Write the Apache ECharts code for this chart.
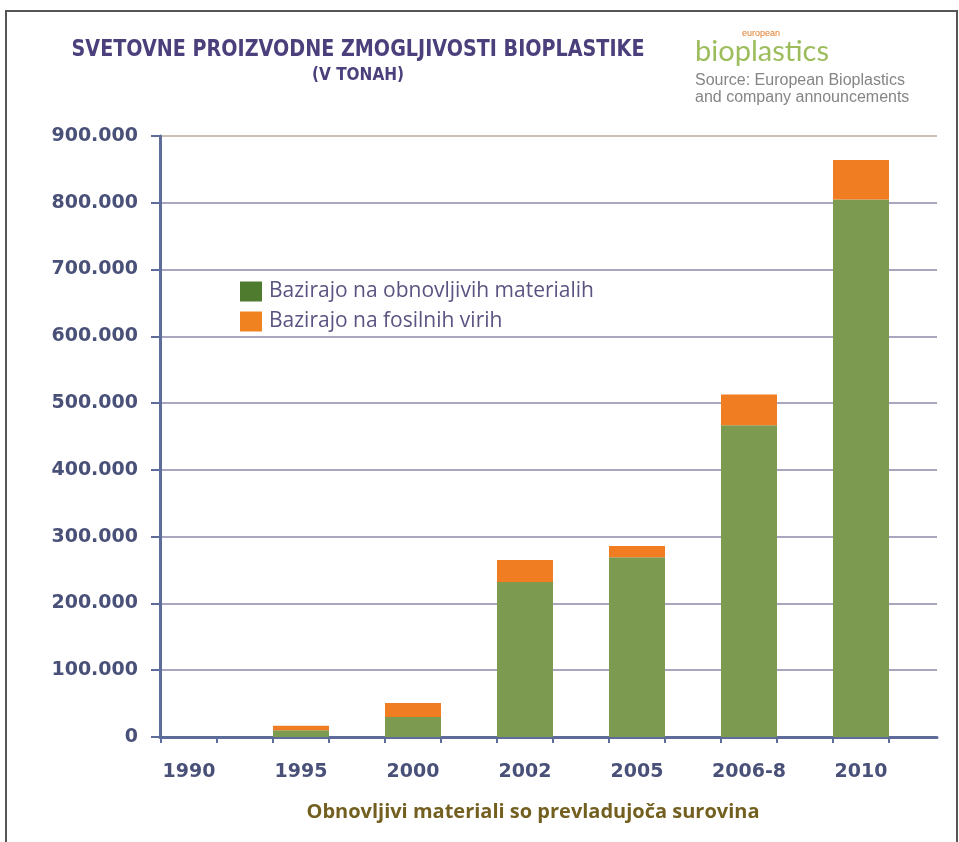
<!DOCTYPE html>
<html>
<head>
<meta charset="utf-8">
<script src="https://cdn.jsdelivr.net/npm/echarts@6/dist/echarts.min.js"></script>
<style>
  html, body { margin: 0; padding: 0; background: #fff; }
  #main { width: 959px; height: 842px; }
</style>
</head>
<body>
<div id="main"></div>
<script>
// podatki (tone)
var categories = ['1990', '1995', '2000', '2002', '2005', '2006-8', '2010'];
var obnovljivi = [0, 10000, 30000, 232000, 269000, 467000, 805000];
var fosilni = [0, 7000, 21000, 33000, 17000, 46000, 59000];
var yMin = 0;
var yMax = 900000;
var yStep = 100000;
var tickSlots = ['', '', '', '', '', '', '', '', '', '', '', '', ''];

var axisBlue = '#5d6c98';
var labelColor = '#4a5179';

function tisoc(v) {
    return String(v).replace(/\B(?=(\d{3})+(?!\d))/g, '.');
}

var chart = echarts.init(document.getElementById('main'));
var option = {
    backgroundColor: '#ffffff',
    animation: false,
    grid: [
        { left: 160, right: 22, top: 136, bottom: 105 },   // os + mreža
        { left: 133, width: 784, top: 136, bottom: 105 },  // stolpci
        { left: 161, width: 728, top: 136, bottom: 105 }   // oznake na osi x
    ],
    xAxis: [
        {
            gridIndex: 0, type: 'value', min: 0, max: 1,
            axisLine: { show: true, lineStyle: { color: axisBlue, width: 3 } },
            axisTick: { show: false }, axisLabel: { show: false }, splitLine: { show: false }
        },
        {
            gridIndex: 1, type: 'category', data: categories,
            axisLine: { show: false }, axisTick: { show: false },
            axisLabel: {
                margin: 26, color: labelColor,
                fontFamily: 'DejaVu Sans', fontWeight: 'bold', fontSize: 19
            }
        },
        {
            gridIndex: 2, type: 'category', data: tickSlots,
            axisLine: { show: false },
            axisTick: { show: true, length: 6, lineStyle: { color: axisBlue, width: 2 } },
            axisLabel: { show: false }
        }
    ],
    yAxis: [
        {
            gridIndex: 0, type: 'value', min: yMin, max: yMax, interval: yStep,
            axisLine: { show: true, lineStyle: { color: axisBlue, width: 3 } },
            axisTick: { show: true, length: 9, lineStyle: { color: axisBlue, width: 2 } },
            axisLabel: {
                margin: 22, color: labelColor,
                fontFamily: 'DejaVu Sans', fontWeight: 'bold', fontSize: 19,
                formatter: function (v) { return tisoc(v); }
            },
            splitLine: {
                show: true,
                lineStyle: {
                    width: 2,
                    color: ['#a9a6bf', '#a9a6bf', '#a9a6bf', '#a9a6bf', '#a9a6bf',
                            '#a9a6bf', '#a9a6bf', '#a9a6bf', '#a9a6bf', '#cdbfb3']
                }
            }
        },
        { gridIndex: 1, type: 'value', min: yMin, max: yMax, show: false },
        { gridIndex: 2, type: 'value', min: yMin, max: yMax, show: false }
    ],
    legend: {
        orient: 'vertical',
        left: 235, top: 276,
        icon: 'rect',
        itemWidth: 22, itemHeight: 20, itemGap: 9,
        textStyle: { fontFamily: 'Open Sans', fontSize: 21, color: '#5a5482', padding: [0, 0, 0, 2] },
        data: [
            { name: 'Bazirajo na obnovljivih materialih', itemStyle: { color: '#4f7b2e' } },
            { name: 'Bazirajo na fosilnih virih', itemStyle: { color: '#f0821f' } }
        ]
    },
    series: [
        {
            name: 'Bazirajo na obnovljivih materialih',
            type: 'bar', stack: 'skupaj',
            xAxisIndex: 1, yAxisIndex: 1,
            barWidth: 56,
            itemStyle: { color: '#7c9b50' },
            data: obnovljivi
        },
        {
            name: 'Bazirajo na fosilnih virih',
            type: 'bar', stack: 'skupaj',
            xAxisIndex: 1, yAxisIndex: 1,
            barWidth: 56,
            itemStyle: { color: '#f07d22' },
            data: fosilni
        }
    ],
    graphic: [
        // okvir slike
        {
            type: 'rect', silent: true, z: 100,
            shape: { x: 6, y: 11, width: 951, height: 850 },
            style: { fill: 'none', stroke: '#555', lineWidth: 2 }
        },
        {
            type: 'text', x: 358, y: 50, scaleX: 0.925, silent: true,
            style: {
                text: 'SVETOVNE PROIZVODNE ZMOGLJIVOSTI BIOPLASTIKE',
                fill: '#4b3f7c', font: 'bold 23px "Liberation Sans Narrow", "DejaVu Sans Condensed", sans-serif',
                align: 'center', verticalAlign: 'middle'
            }
        },
        {
            type: 'text', x: 358, y: 76, silent: true,
            style: {
                text: '(V TONAH)',
                fill: '#4b3f7c', font: 'bold 17px "Liberation Sans Narrow", "DejaVu Sans Condensed", sans-serif',
                align: 'center', verticalAlign: 'middle'
            }
        },
        {
            type: 'text', x: 695, y: 52, silent: true,
            style: {
                text: 'bioplastics', fill: '#9dbd5d',
                font: '29px Lato, sans-serif', align: 'left', verticalAlign: 'middle'
            }
        },
        {
            type: 'text', x: 742, y: 34, silent: true,
            style: {
                text: 'european', fill: '#e07b28',
                font: '9px "Liberation Sans", sans-serif', align: 'left', verticalAlign: 'middle'
            }
        },
        {
            type: 'text', x: 695, y: 81, silent: true,
            style: {
                text: 'Source: European Bioplastics', fill: '#858585',
                font: '16px "Liberation Sans", sans-serif', align: 'left', verticalAlign: 'middle'
            }
        },
        {
            type: 'text', x: 695, y: 98, silent: true,
            style: {
                text: 'and company announcements', fill: '#858585',
                font: '16px "Liberation Sans", sans-serif', align: 'left', verticalAlign: 'middle'
            }
        },
        {
            type: 'text', x: 533, y: 812, silent: true,
            style: {
                text: 'Obnovljivi materiali so prevladujoča surovina', fill: '#735f1f',
                font: 'bold 20px "Open Sans", sans-serif',
                align: 'center', verticalAlign: 'middle'
            }
        }
    ]
};
chart.setOption(option);
</script>
</body>
</html>
